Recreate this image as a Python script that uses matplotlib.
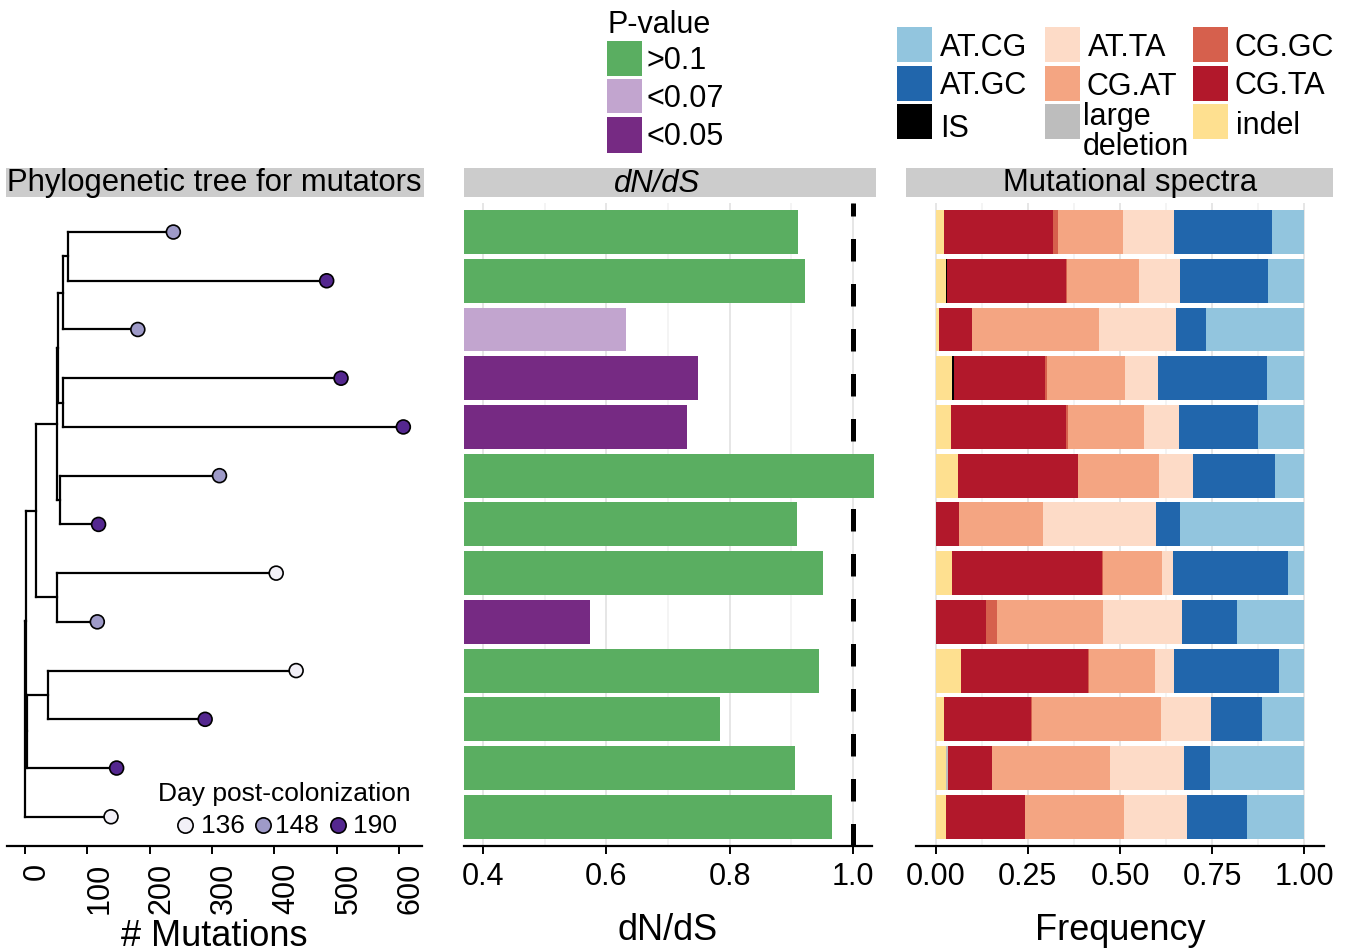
import numpy as np
import matplotlib
matplotlib.use('Agg')
import matplotlib.pyplot as plt
from matplotlib.patches import Rectangle
from matplotlib.lines import Line2D
from matplotlib.transforms import ScaledTranslation

plt.rcParams['font.family'] = ['Liberation Sans', 'DejaVu Sans']

#%% Data (rows listed top to bottom)

# tree tips: mutations from root and sampling day
tip_mutations = [238, 484, 181, 507, 607, 312, 118, 403, 116, 435, 289, 147, 138]
tip_day = [148, 190, 148, 190, 190, 148, 190, 136, 148, 136, 190, 190, 136]

# internal nodes (children are tip rows or other node names)
node_names = ['A', 'B', 'D', 'C', 'E', 'F', 'H', 'G', 'J', 'L', 'I', 'root']
node_mutations = [69.5, 61.5, 61.5, 53.5, 56.0, 52.0, 51.0, 17.0, 37.5, 2.5, 1.0, 0.0]
node_children = [(1, 2), ('A', 3), (4, 5), ('B', 'D'), (6, 7), ('C', 'E'),
                 (8, 9), ('F', 'H'), (10, 11), ('J', 12), ('G', 'L'), ('I', 13)]

# dN/dS per lineage and p-value class
dnds = [0.911, 0.922, 0.632, 0.749, 0.731, 1.035, 0.910, 0.952, 0.573, 0.946, 0.784, 0.906, 0.966]
pval_class = ['>0.1', '>0.1', '<0.07', '<0.05', '<0.05', '>0.1', '>0.1', '>0.1',
              '<0.05', '>0.1', '>0.1', '>0.1', '>0.1']

# mutational spectra (fractions), stacked left to right
spec_indel = [.023, .028, .009, .044, .042, .061, 0, .044, 0, .069, .023, .028, .028]
spec_IS = [0, .003, 0, .005, 0, 0, 0, 0, 0, 0, 0, 0, 0]
spec_largedel = [0, 0, 0, 0, 0, 0, 0, 0, 0, 0, 0, .005, 0]
spec_CGTA = [.296, .323, .090, .247, .312, .325, .063, .407, .137, .344, .236, .119, .214]
spec_CGGC = [.014, .003, 0, .005, .005, 0, 0, .003, .030, .003, .003, 0, 0]
spec_CGAT = [.176, .195, .344, .212, .206, .220, .228, .160, .288, .179, .350, .320, .269]
spec_ATTA = [.138, .111, .209, .090, .095, .092, .307, .030, .214, .052, .136, .201, .171]
spec_ATGC = [.266, .239, .081, .296, .214, .222, .065, .312, .149, .285, .138, .071, .163]
spec_ATCG = [.088, .099, .267, .101, .126, .080, .337, .044, .183, .069, .115, .256, .156]

spec_names = ['indel', 'IS', 'large deletion', 'CG.TA', 'CG.GC', 'CG.AT', 'AT.TA', 'AT.GC', 'AT.CG']
spec_values = [spec_indel, spec_IS, spec_largedel, spec_CGTA, spec_CGGC, spec_CGAT,
               spec_ATTA, spec_ATGC, spec_ATCG]

#%% Colours
DAY_COLORS = {136: '#f2f0f7', 148: '#9e9ac8', 190: '#54278f'}
P_COLORS = {'>0.1': '#5aae61', '<0.07': '#c2a5cf', '<0.05': '#762a83'}
SPEC_COLORS = {'AT.CG': '#92c5de', 'AT.GC': '#2166ac', 'IS': '#000000',
               'AT.TA': '#fddbc7', 'CG.AT': '#f4a582', 'large deletion': '#bdbdbd',
               'CG.GC': '#d6604d', 'CG.TA': '#b2182b', 'indel': '#fee090'}
STRIP = '#cccccc'

#%% Figure layout (pixel helpers)
W, H = 1356, 951
fig = plt.figure(figsize=(W / 100, H / 100), dpi=100)

def box(x0, y0, x1, y1):
    return [x0 / W, 1 - y1 / H, (x1 - x0) / W, (y1 - y0) / H]

def fx(px):
    return px / W

def fy(py):
    return 1 - py / H

PANEL_TOP, PANEL_BOT = 202.8, 846
ax_tree = fig.add_axes(box(7, PANEL_TOP, 422, PANEL_BOT))
ax_dnds = fig.add_axes(box(464, PANEL_TOP, 876, PANEL_BOT))
ax_spec = fig.add_axes(box(906, PANEL_TOP, 1333, PANEL_BOT))

rows = np.arange(1, 14)
for ax in (ax_tree, ax_dnds, ax_spec):
    ax.set_ylim(13.6, 0.4)
    ax.set_yticks([])
    for s in ('left', 'right', 'top'):
        ax.spines[s].set_visible(False)
    ax.spines['bottom'].set_linewidth(1.6)
    ax.tick_params(axis='x', which='major', length=5.8, width=1.4, pad=6, labelsize=22)
    ax.tick_params(axis='x', which='minor', length=0)
    ax.patch.set_alpha(0)

#%% Strips
def strip(x0, x1, label, xc, style='normal'):
    fig.add_artist(Rectangle((fx(x0), fy(197.3)), (x1 - x0) / W, 29 / H,
                             transform=fig.transFigure, color=STRIP, lw=0))
    fig.text(fx(xc), fy(191.5), label, ha='center', va='baseline', fontsize=22.3, style=style)

strip(6, 424, 'Phylogenetic tree for mutators', 214)
strip(464, 876, 'dN/dS', 657, style='italic')
strip(906, 1333, 'Mutational spectra', 1130)

#%% Phylogenetic tree
xpos = {r: tip_mutations[r - 1] for r in rows}
ypos = {r: float(r) for r in rows}
for name, depth, kids in zip(node_names, node_mutations, node_children):
    ys = [ypos[k] for k in kids]
    ax_tree.plot([depth, depth], [min(ys), max(ys)], color='black', lw=1.6,
                 solid_capstyle='projecting')
    for k in kids:
        ax_tree.plot([depth, xpos[k]], [ypos[k], ypos[k]], color='black', lw=1.6,
                     solid_capstyle='projecting')
    xpos[name] = depth
    ypos[name] = np.mean(ys)

ax_tree.scatter(tip_mutations, rows, s=100, c=[DAY_COLORS[d] for d in tip_day],
                edgecolors='black', linewidths=1.2, zorder=3)
ax_tree.set_xlim((7 - 25) / 0.6233, (422 - 25) / 0.6233)
ax_tree.set_xticks(np.arange(0, 700, 100))
ax_tree.set_xticklabels([str(v) for v in range(0, 700, 100)], rotation=90,
                        ha='center', va='top')
shift = ScaledTranslation(0.12, 0, fig.dpi_scale_trans)
for lbl in ax_tree.get_xticklabels():
    lbl.set_transform(lbl.get_transform() + shift)

# day legend
fig.text(fx(158), fy(800.7), 'Day post-colonization', fontsize=19, va='baseline')
for cx, lx, day in zip([185, 263.3, 338.3], [201, 275, 353], [136, 148, 190]):
    fig.add_artist(Line2D([fx(cx)], [fy(825)], marker='o', ms=11, mfc=DAY_COLORS[day],
                          mec='black', mew=1.2, transform=fig.transFigure))
    fig.text(fx(lx), fy(832.7), str(day), fontsize=19, va='baseline')

#%% dN/dS bars
ax_dnds.barh(rows, dnds, height=0.9, color=[P_COLORS[p] for p in pval_class], zorder=3)
ax_dnds.axvline(1.0, color='black', lw=3.6, linestyle=(0, (4.5, 4.5)), zorder=2)
ax_dnds.set_xlim(0.4 + (464 - 483.3) / 615.7, 0.4 + (876 - 483.3) / 615.7)
ax_dnds.spines['bottom'].set_bounds(0.4 + (464 - 483.3) / 615.7, 0.4 + (872.3 - 483.3) / 615.7)
ax_dnds.set_xticks([0.4, 0.6, 0.8, 1.0])
ax_dnds.set_xticklabels(['0.4', '0.6', '0.8', '1.0'])
ax_dnds.set_xticks([0.5, 0.7, 0.9], minor=True)
ax_dnds.grid(axis='x', which='major', color='#e6e6e6', lw=1.4, zorder=0)
ax_dnds.grid(axis='x', which='minor', color='#f4f4f4', lw=1.4, zorder=0)
ax_dnds.set_axisbelow(True)

#%% Mutational spectra
spec = np.array(spec_values, dtype=float)
spec = spec / spec.sum(axis=0)
left = np.zeros(len(rows))
for name, vals in zip(spec_names, spec):
    ax_spec.barh(rows, vals, left=left, height=0.9, color=SPEC_COLORS[name], lw=0, zorder=3)
    left += vals
ax_spec.set_xlim((906 - 935.7) / 368.6, (1333 - 935.7) / 368.6)
ax_spec.spines['bottom'].set_bounds((916 - 935.7) / 368.6, (1324 - 935.7) / 368.6)
ax_spec.set_xticks([0, 0.25, 0.5, 0.75, 1.0])
ax_spec.set_xticklabels(['0.00', '0.25', '0.50', '0.75', '1.00'])
ax_spec.set_xticks([0.125, 0.375, 0.625, 0.875], minor=True)
ax_spec.grid(axis='x', which='major', color='#e6e6e6', lw=1.4, zorder=0)
ax_spec.grid(axis='x', which='minor', color='#f4f4f4', lw=1.4, zorder=0)
ax_spec.set_axisbelow(True)

#%% Axis titles
fig.text(fx(214.5), fy(946), '# Mutations', ha='center', va='baseline', fontsize=26)
fig.text(fx(668), fy(940), 'dN/dS', ha='center', va='baseline', fontsize=26)
fig.text(fx(1120), fy(940), 'Frequency', ha='center', va='baseline', fontsize=26)

#%% P-value legend
fig.text(fx(607), fy(33.3), 'P-value', fontsize=22, va='baseline')
for (y0, y1), lab in zip([(40.7, 76), (79, 113.3), (117.3, 152.7)], ['>0.1', '<0.07', '<0.05']):
    fig.add_artist(Rectangle((fx(606.7), fy(y1)), 35.6 / W, (y1 - y0) / H,
                             transform=fig.transFigure, color=P_COLORS[lab], lw=0))
    fig.text(fx(646), fy((y0 + y1) / 2 + 10.5), lab, fontsize=22, va='baseline')

#%% Spectra legend
key_x = [897, 1045, 1193]
key_y = [(27.3, 61.7), (66, 100.7), (104, 138.7)]
legend_items = [('AT.CG', 0, 0, 940, 56), ('AT.GC', 0, 1, 940, 94.5), ('IS', 0, 2, 940, 137),
                ('AT.TA', 1, 0, 1088, 56), ('CG.AT', 1, 1, 1087, 95), ('large deletion', 1, 2, None, None),
                ('CG.GC', 2, 0, 1234, 56), ('CG.TA', 2, 1, 1234, 94.5), ('indel', 2, 2, 1236, 133.5)]
for name, c, r, tx, ty in legend_items:
    y0, y1 = key_y[r]
    fig.add_artist(Rectangle((fx(key_x[c]), fy(y1)), 35 / W, (y1 - y0) / H,
                             transform=fig.transFigure, color=SPEC_COLORS[name], lw=0))
    if tx is not None:
        fig.text(fx(tx), fy(ty), name, fontsize=22, va='baseline')
fig.text(fx(1083), fy(125), 'large', fontsize=22, va='baseline')
fig.text(fx(1083), fy(155), 'deletion', fontsize=22, va='baseline')

fig.savefig('out.png', dpi=100)
